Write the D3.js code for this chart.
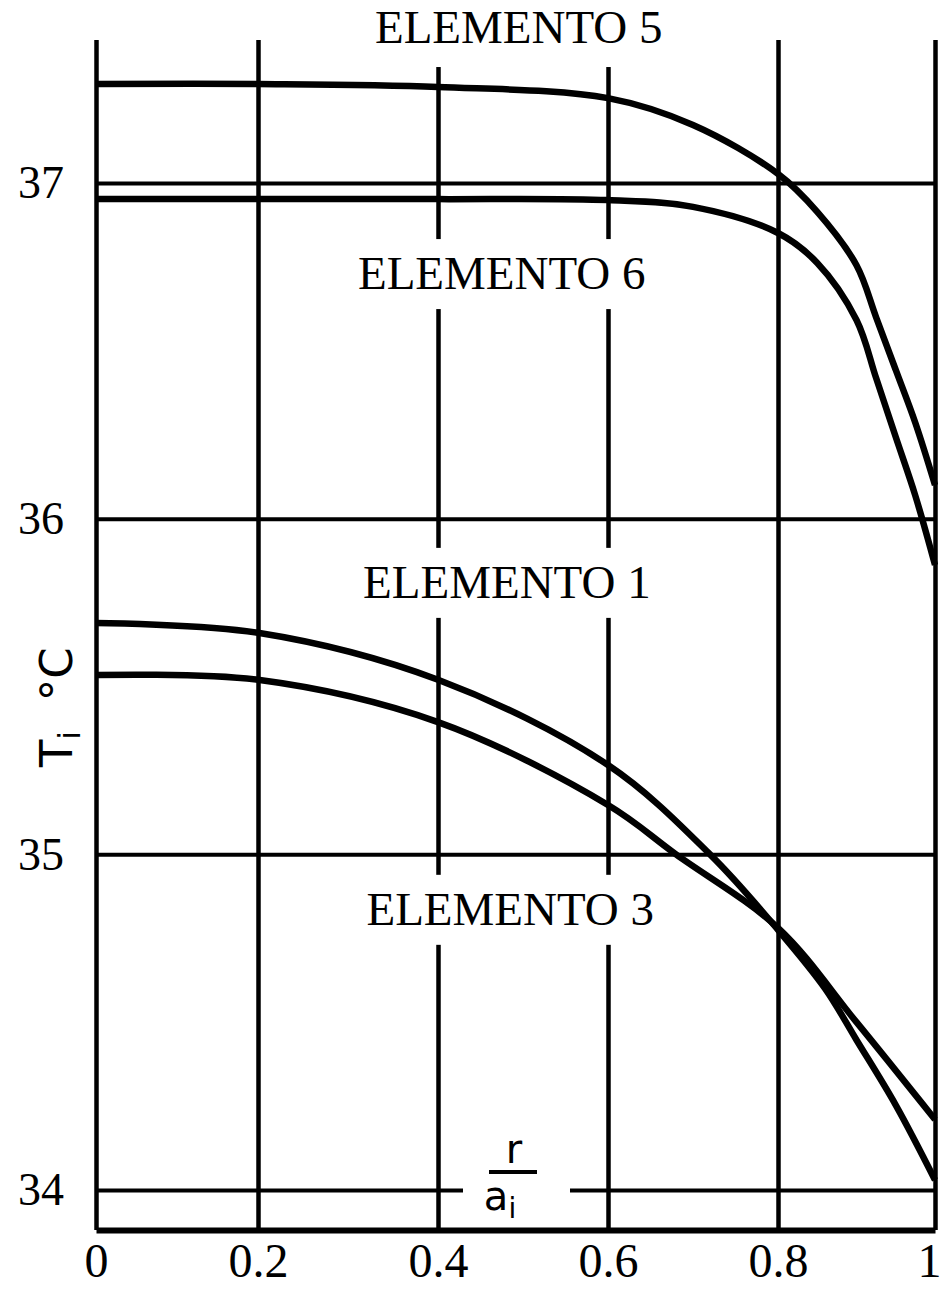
<!DOCTYPE html>
<html>
<head>
<meta charset="utf-8">
<script src="https://cdn.jsdelivr.net/npm/d3@7"></script>
<style>
body { margin: 0; background: #fff; }
svg { display: block; }
</style>
</head>
<body>
<svg id="chart"></svg>
<script>
var xTicks = [0, 0.2, 0.4, 0.6, 0.8, 1]
var xTickLabels = ["0", "0.2", "0.4", "0.6", "0.8", "1"]
var yTicks = [34, 35, 36, 37]

// r/ai and Ti (°C)
var rElem5 = [0, 0.2, 0.4, 0.6, 0.7, 0.8, 0.85, 0.9, 0.925, 0.95, 0.975, 1]
var tElem5 = [37.295, 37.295, 37.286, 37.253, 37.173, 37.027, 36.914, 36.755, 36.60, 36.443, 36.285, 36.10]

var rElem6 = [0, 0.2, 0.4, 0.6, 0.7, 0.8, 0.85, 0.9, 0.925, 0.95, 0.975, 1]
var tElem6 = [36.952, 36.952, 36.952, 36.949, 36.929, 36.851, 36.762, 36.592, 36.419, 36.243, 36.068, 35.862]

var rElem1 = [0, 0.2, 0.4, 0.6, 0.72, 0.8, 0.86, 0.9, 0.95, 1]
var tElem1 = [35.689, 35.660, 35.520, 35.266, 35.0, 34.775, 34.60, 34.447, 34.253, 34.03]

var rElem3 = [0, 0.2, 0.4, 0.6, 0.68, 0.8, 0.9, 1]
var tElem3 = [35.534, 35.520, 35.394, 35.147, 35.0, 34.781, 34.50, 34.21]

var labelNames = ["ELEMENTO 5", "ELEMENTO 6", "ELEMENTO 1", "ELEMENTO 3"]

var series = [
    {r: rElem5, t: tElem5},
    {r: rElem6, t: tElem6},
    {r: rElem1, t: tElem1},
    {r: rElem3, t: tElem3}
]

var width = 943
var height = 1289
var gridTop = 40, gridBottom = 1230

var svg = d3.select("#chart")
    .attr("width", width)
    .attr("height", height)

// the grid on the original is hand drawn, spacing is not quite even
var x = d3.scaleLinear().domain(xTicks).range([96, 258, 438, 608, 778, 935])
var y = d3.scaleLinear().domain([34, 37]).range([1190, 183])

var serif = "'Liberation Serif', 'Times New Roman', serif"
var sans = "'DejaVu Sans', 'Liberation Sans', sans-serif"

// vertical grid + bottom axis
var xAxis = svg.append("g")
    .attr("transform", "translate(0," + gridBottom + ")")
    .call(d3.axisBottom(x).tickValues(xTicks).tickFormat((d, i) => xTickLabels[i])
        .tickSize(-(gridBottom - gridTop)).tickSizeOuter(0).tickPadding(13))
xAxis.select(".domain").attr("stroke", "#000").attr("stroke-width", 6)
xAxis.selectAll(".tick line").attr("stroke", "#000").attr("stroke-width", 4.5)
xAxis.selectAll(".tick text")
    .attr("fill", "#000")
    .style("font-family", serif)
    .style("font-size", "48px")
xAxis.selectAll(".tick text").filter(d => d == 1)
    .attr("text-anchor", "end")
    .attr("x", 6)

// horizontal grid + y labels
var yAxis = svg.append("g")
    .attr("transform", "translate(" + x(0) + ",0)")
    .call(d3.axisLeft(y).tickValues(yTicks).tickFormat(d3.format("d"))
        .tickSize(-(x(1) - x(0))).tickSizeOuter(0))
yAxis.select(".domain").remove()
yAxis.selectAll(".tick line").attr("stroke", "#000").attr("stroke-width", 4)
yAxis.selectAll(".tick text")
    .attr("fill", "#000")
    .attr("x", -55)
    .attr("text-anchor", "middle")
    .style("font-family", serif)
    .style("font-size", "46px")

// element labels, with white boxes that cut the grid
var labelR = [0.495, 0.475, 0.481, 0.485]
var labelT = [37.417, 36.684, 35.764, 34.79]

var labels = svg.append("g")
labelNames.forEach((name, i) => {
    var g = labels.append("g")
    var t = g.append("text")
        .attr("x", x(labelR[i]))
        .attr("y", y(labelT[i]))
        .attr("text-anchor", "middle")
        .style("font-family", serif)
        .style("font-size", "47px")
        .text(name)
    var b = t.node().getBBox()
    g.insert("rect", "text")
        .attr("x", b.x - 6)
        .attr("y", i == 0 ? 0 : b.y - 8)
        .attr("width", b.width + 12)
        .attr("height", i == 0 ? b.y + b.height + 14 : b.height + 18)
        .attr("fill", "#fff")
})

// r / ai label on the 34 line
var frac = svg.append("g").attr("transform", "translate(514,0)")
frac.append("rect")
    .attr("x", -51).attr("y", 1135)
    .attr("width", 107).attr("height", 88)
    .attr("fill", "#fff")
frac.append("text")
    .attr("x", 0).attr("y", 1163)
    .attr("text-anchor", "middle")
    .style("font-family", sans)
    .style("font-size", "40px")
    .text("r")
frac.append("line")
    .attr("x1", -25).attr("x2", 23)
    .attr("y1", 1172).attr("y2", 1172)
    .attr("stroke", "#000").attr("stroke-width", 4)
var ai = frac.append("text")
    .attr("x", -14).attr("y", 1210)
    .attr("text-anchor", "middle")
    .style("font-family", sans)
    .style("font-size", "40px")
    .text("a")
ai.append("tspan")
    .attr("dy", 8)
    .style("font-size", "28px")
    .text("i")

// y title
var yTitle = svg.append("text")
    .attr("transform", "translate(72,767) rotate(-90)")
    .style("font-family", sans)
    .style("font-size", "45px")
    .text("T")
yTitle.append("tspan").attr("dy", 8).style("font-size", "30px").text("i")
yTitle.append("tspan").attr("dy", -8).attr("dx", 30).text("°C")

// curves
var line = d3.line()
    .x(d => x(d[0]))
    .y(d => y(d[1]))
    .curve(d3.curveCatmullRom.alpha(0.5))

svg.selectAll("path.curve")
    .data(series)
    .enter()
    .append("path")
    .attr("class", "curve")
    .attr("d", s => line(s.r.map((r, i) => [r, s.t[i]])))
    .attr("fill", "none")
    .attr("stroke", "#000")
    .attr("stroke-width", 6.5)
    .attr("stroke-linejoin", "round")
</script>
</body>
</html>
